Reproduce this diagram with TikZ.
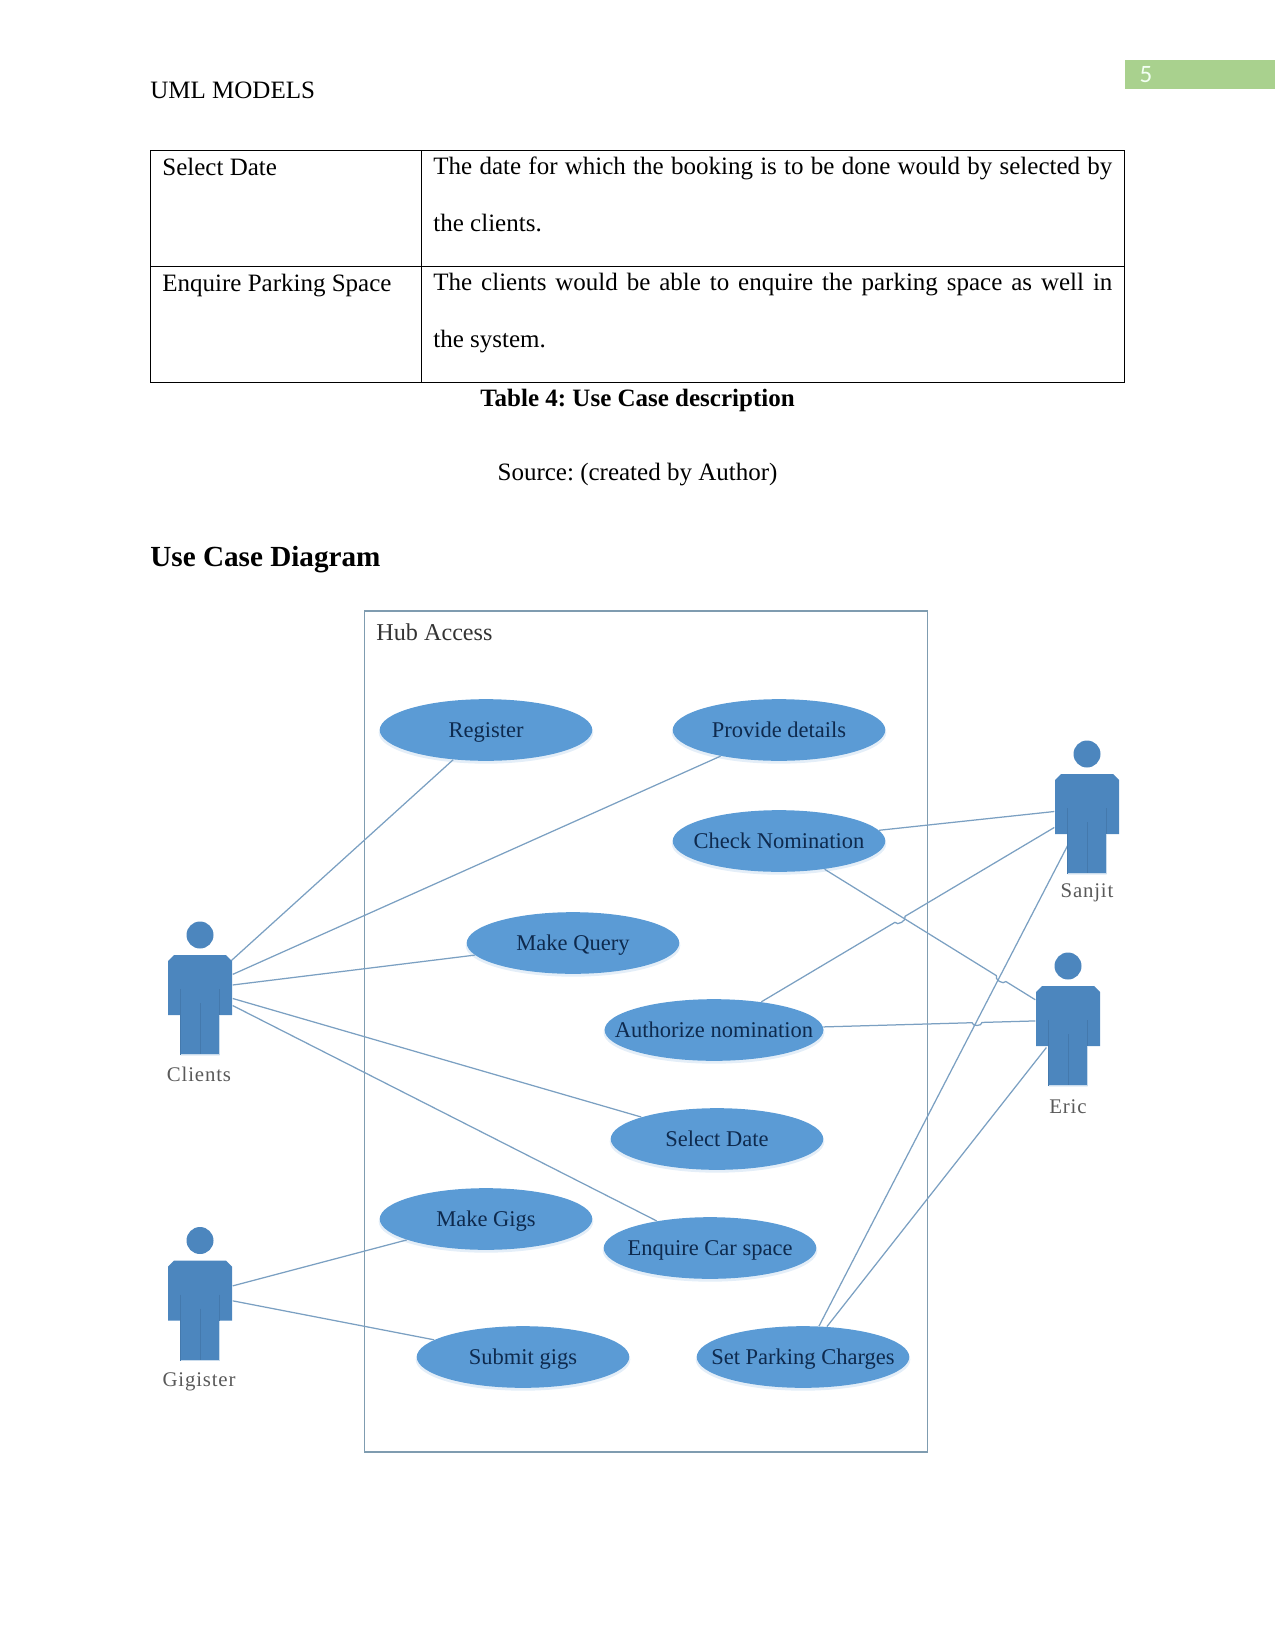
\documentclass[tikz,border=0pt]{standalone}
\usepackage{fontspec}
\usepackage{xcolor}
\usetikzlibrary{shapes.geometric,shadows,calc}
\setmainfont{Liberation Serif}
\newfontfamily\numfont{Carlito}
\newfontfamily\actorfont[LetterSpace=4]{Liberation Serif}
\definecolor{usefill}{HTML}{5B9BD5}
\definecolor{usetext}{HTML}{0E2A4E}
\definecolor{actorfill}{HTML}{4C86BE}
\definecolor{actorline}{HTML}{4479AD}
\definecolor{linkcol}{HTML}{7BA0C2}
\definecolor{boxcol}{HTML}{7F9CB0}
\definecolor{pagebar}{HTML}{A9D18E}
\tikzset{
  usecase/.style={ellipse, fill=usefill, inner sep=0pt, minimum width=102pt, minimum height=29.6pt,
    text=usetext, font=\fontsize{10.8}{12}\selectfont, text height=8.5pt, text depth=1.5pt,
    execute at begin node=\hbox to 0pt\bgroup\hss, execute at end node=\hss\egroup,
    drop shadow={shadow xshift=0pt, shadow yshift=-1.2pt, shadow scale=1.01, fill=usefill!55, opacity=.3}},
  actor/.style={inner sep=0pt, minimum width=31pt, minimum height=26pt},
  actorname/.style={inner sep=0pt, text=black!65, font=\actorfont\fontsize{10}{12}\selectfont},
  link/.style={draw=linkcol, line width=.6pt},
  cell/.style={anchor=north west, inner sep=0pt, font=\fontsize{12}{27.4}\selectfont},
  bodytext/.style={cell, text width=325.9pt, align=justify},
  plain/.style={inner sep=0pt, font=\fontsize{12}{14}\selectfont}
}
\begin{document}
\frenchspacing
\begin{tikzpicture}[x=0.48pt, y=-0.48pt]
  \useasboundingbox (0,0) rectangle (1275,1651);

  % page header
  \node[plain, anchor=west] (header) at (150,90) {UML MODELS};
  \fill[pagebar] (1125,60) rectangle (1275,89);
  \node[inner sep=0pt, text=green!5, font=\numfont\fontsize{12}{14}\selectfont] (pagenum) at (1146,75) {5};

  % table
  \draw[line width=.5pt] (150.5,150.5) rectangle (1124.5,382.5);
  \draw[line width=.5pt] (150.5,266.5) -- (1124.5,266.5);
  \draw[line width=.5pt] (421.5,150.5) -- (421.5,382.5);
  \node[cell] (namea) at (162,158) {Select Date};
  \node[bodytext] (texta) at (433,156) {The date for which the booking is to be done would by selected by the clients.};
  \node[cell] (nameb) at (162,274) {Enquire Parking Space};
  \node[bodytext] (textb) at (433,273) {The clients would be able to enquire the parking space as well in\linebreak the system.};

  \node[plain, font=\bfseries\fontsize{12}{14}\selectfont] (caption) at (637.5,400) {Table 4: Use Case description};
  \node[plain] (source) at (637.5,475) {Source: (created by Author)};
  \node[plain, anchor=west, font=\bfseries\fontsize{14}{16}\selectfont] (heading) at (150,560) {Use Case Diagram};

  % system boundary
  \draw[boxcol, line width=.6pt] (364.5,611) rectangle (927.5,1452);
  \node[inner sep=0pt, anchor=west, text=black!80, font=\fontsize{11.6}{14}\selectfont] (hub) at (376,632) {Hub Access};

  % use cases
  \node[usecase] (register) at (486,730) {Register};
  \node[usecase] (details) at (779,730) {Provide details};
  \node[usecase] (check) at (779,841) {Check Nomination};
  \node[usecase] (query) at (573,943) {Make Query};
  \node[usecase, minimum width=105pt] (authorize) at (714,1030) {Authorize nomination};
  \node[usecase] (date) at (717,1139) {Select Date};
  \node[usecase] (gigs) at (486,1219) {Make Gigs};
  \node[usecase] (enquire) at (710,1248) {Enquire Car space};
  \node[usecase] (submit) at (523,1357) {Submit gigs};
  \node[usecase] (charges) at (803,1357) {Set Parking Charges};

  % actors, the figures are drawn later over the line ends
  \node[actor] (clients) at (200,989) {};
  \node[actor] (gigister) at (200,1294.5) {};
  \node[actor] (sanjit) at (1087,808) {};
  \node[actor] (eric) at (1068,1020) {};
  \node[actorname] (clientsname) at (199,1074) {Clients};
  \node[actorname] (gigistername) at (199,1382) {Gigister};
  \node[actorname] (sanjitname) at (1087,893) {Sanjit};
  \node[actorname] (ericname) at (1068,1107) {Eric};

  % little jumps where the lines cross
  \coordinate (jumpa) at ($(authorize)!0.485!(sanjit)$);
  \coordinate (jumpb) at ($(authorize)!0.512!(sanjit)$);
  \coordinate (jumpc) at ($(check)!0.752!(eric)$);
  \coordinate (jumpd) at ($(check)!0.785!(eric)$);
  \coordinate (jumpe) at ($(authorize)!0.729!(eric)$);
  \coordinate (jumpf) at ($(authorize)!0.757!(eric)$);

  \foreach \a/\b in {clients/register, clients/details, clients/query, clients/date, clients/enquire,
                     gigister/gigs, gigister/submit, check/sanjit, charges/sanjit, charges/eric}
    \draw[link] (\a) -- (\b);
  \draw[link] (authorize) -- (jumpa) to[bend right=90] (jumpb) -- (sanjit);
  \draw[link] (check) -- (jumpc) to[bend right=90] (jumpd) -- (eric);
  \draw[link] (authorize) -- (jumpe) to[bend right=90] (jumpf) -- (eric);

  \foreach \who in {clients, gigister, sanjit, eric} {
    \begin{scope}[shift={(\who.center)}]
      \fill[actorfill] (0,-54) circle (13.5);
      \fill[actorfill] (-26,-34) -- (26,-34) -- (32,-28) -- (32,26) -- (19.5,26) -- (19.5,66)
        -- (-19.5,66) -- (-19.5,26) -- (-32,26) -- (-32,-28) -- cycle;
      \draw[actorline, line width=.35pt] (-19.5,0) -- (-19.5,66) (19.5,0) -- (19.5,26) (0,14) -- (0,66);
      \draw[white!70!actorfill, line width=.4pt] (-19,65.5) -- (19,65.5) -- (19,26);
    \end{scope}
  }
\end{tikzpicture}
\end{document}
